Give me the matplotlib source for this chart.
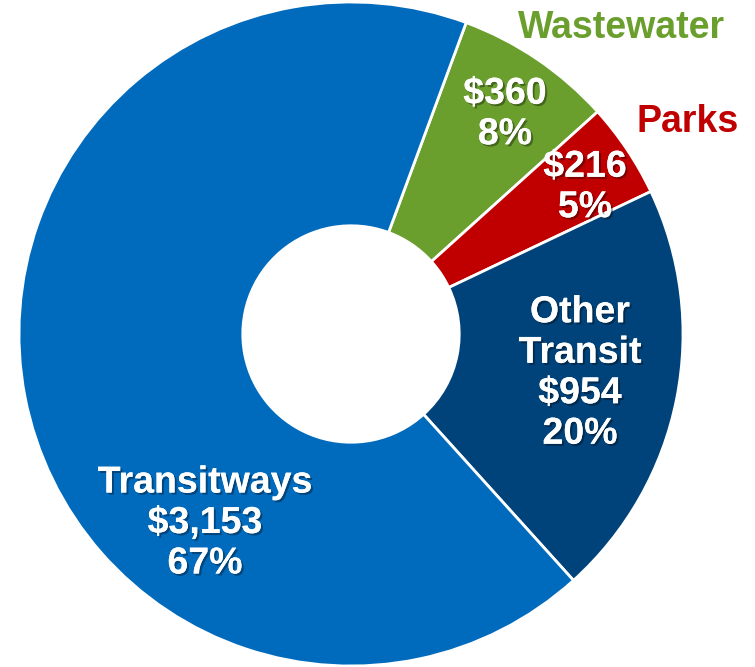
import matplotlib
matplotlib.use("Agg")
import matplotlib.pyplot as plt
import matplotlib.patheffects as pe

categories = ["Wastewater", "Parks", "Other Transit", "Transitways"]
values = [360, 216, 954, 3153]
pct_labels = ["8%", "5%", "20%", "67%"]
colors = ["#6A9F2E", "#C00000", "#00437A", "#006BBD"]

plt.rcParams['font.family'] = ['Liberation Sans', 'DejaVu Sans']

W, H = 755, 667
fig = plt.figure(figsize=(W / 100, H / 100), dpi=100)
ax = fig.add_axes([0, 0, 1, 1])

cx, cy, R = 351, H - 334, 332
ax.pie(values, colors=colors, startangle=69.7, counterclock=False,
       center=(cx, cy), radius=R,
       wedgeprops=dict(width=R * 0.674, edgecolor='white', linewidth=2),
       frame=True)
ax.set_xlim(0, W)
ax.set_ylim(0, H)
ax.set_aspect('equal')
ax.axis('off')

shadow = [pe.withSimplePatchShadow(offset=(1.5, -1.5), shadow_rgbFace='black', alpha=0.35), pe.Normal()]
fs = 27

def fmt(v):
    return "${:,}".format(v)

inner_pos = {
    "Wastewater": (505, 114),
    "Parks": (585, 187),
    "Other Transit": (580, 373),
    "Transitways": (205, 523),
}
for cat, v, p in zip(categories, values, pct_labels):
    x, y = inner_pos[cat]
    if cat in ("Wastewater", "Parks"):
        txt = f"{fmt(v)}\n{p}"
    elif cat == "Other Transit":
        txt = f"Other\nTransit\n{fmt(v)}\n{p}"
    else:
        txt = f"{cat}\n{fmt(v)}\n{p}"
    ax.text(x, H - y, txt, ha='center', va='center', color='white',
            fontsize=fs, fontweight='bold', linespacing=1.16, path_effects=shadow)

ax.text(622, H - 28, "Wastewater", ha='center', va='center', color=colors[0],
        fontsize=fs, fontweight='bold')
ax.text(688, H - 122, "Parks", ha='center', va='center', color=colors[1],
        fontsize=fs, fontweight='bold')

fig.savefig("out.png", dpi=100)
